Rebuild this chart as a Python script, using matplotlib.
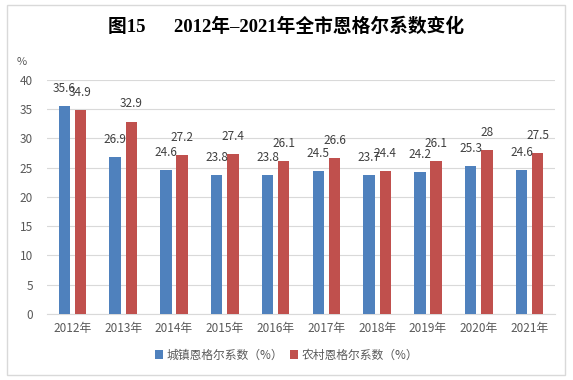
import matplotlib.pyplot as plt
import numpy as np
from matplotlib.patches import Rectangle

plt.rcParams['font.family'] = ['Noto Sans CJK SC', 'DejaVu Sans']

# 데이터
years = ['2012年', '2013年', '2014年', '2015年', '2016年',
         '2017年', '2018年', '2019年', '2020年', '2021年']
urban = [35.6, 26.9, 24.6, 23.8, 23.8, 24.5, 23.7, 24.2, 25.3, 24.6]
rural = [34.9, 32.9, 27.2, 27.4, 26.1, 26.6, 24.4, 26.1, 28, 27.5]
yticks = [0, 5, 10, 15, 20, 25, 30, 35, 40]

blue = '#4F81BD'
red = '#C0504D'
text_gray = '#595959'

fig = plt.figure(figsize=(5.73, 3.8), dpi=100)

# 바깥 테두리
fig.patches.append(Rectangle((7 / 573, 5 / 380), 558 / 573, 370 / 380,
                             transform=fig.transFigure, fill=False,
                             edgecolor='#D9D9D9', linewidth=1))

ax = fig.add_axes([0.082, 0.1737, 0.8866, 0.6158])

x = np.arange(len(years))
w = 0.225
off = 0.16
b1 = ax.bar(x - off, urban, w, color=blue, label='城镇恩格尔系数（%）', zorder=3)
b2 = ax.bar(x + off, rural, w, color=red, label='农村恩格尔系数（%）', zorder=3)

# 데이터 레이블
for bars, vals in [(b1, urban), (b2, rural)]:
    for rect, v in zip(bars, vals):
        ax.annotate(f'{v:g}', (rect.get_x() + rect.get_width() / 2, v),
                    xytext=(0, 8), textcoords='offset points', ha='center',
                    va='bottom', fontsize=8.5, color='#404040')

ax.set_xlim(-0.5, len(years) - 0.5)
ax.set_ylim(0, 40)
ax.set_yticks(yticks)
ax.set_xticks(x)
ax.set_xticklabels(years)
ax.tick_params(axis='both', length=0, labelsize=8.5, colors=text_gray)
ax.tick_params(axis='x', pad=6)
ax.tick_params(axis='y', pad=10)
ax.grid(axis='y', color='#D9D9D9', linewidth=0.8, zorder=0)
for s in ['top', 'right', 'left']:
    ax.spines[s].set_visible(False)
ax.spines['bottom'].set_color('#D9D9D9')

fig.text(22 / 573, 1 - 62 / 380, '%', fontsize=8, color=text_gray,
         ha='center', va='center')

fig.text(0.5, 1 - 27 / 380, '图15      2012年–2021年全市恩格尔系数变化',
         fontsize=13.5, fontweight='bold', ha='center', va='center',
         family=['Liberation Serif', 'Noto Sans CJK SC'])

fig.legend(handles=[b1, b2], loc='center', bbox_to_anchor=(0.5, 1 - 355 / 380),
           ncol=2, frameon=False, fontsize=8.5, handlelength=0.7,
           handleheight=0.7, handletextpad=0.3, columnspacing=0.6,
           labelcolor=text_gray)

fig.savefig('out.png', dpi=100)
